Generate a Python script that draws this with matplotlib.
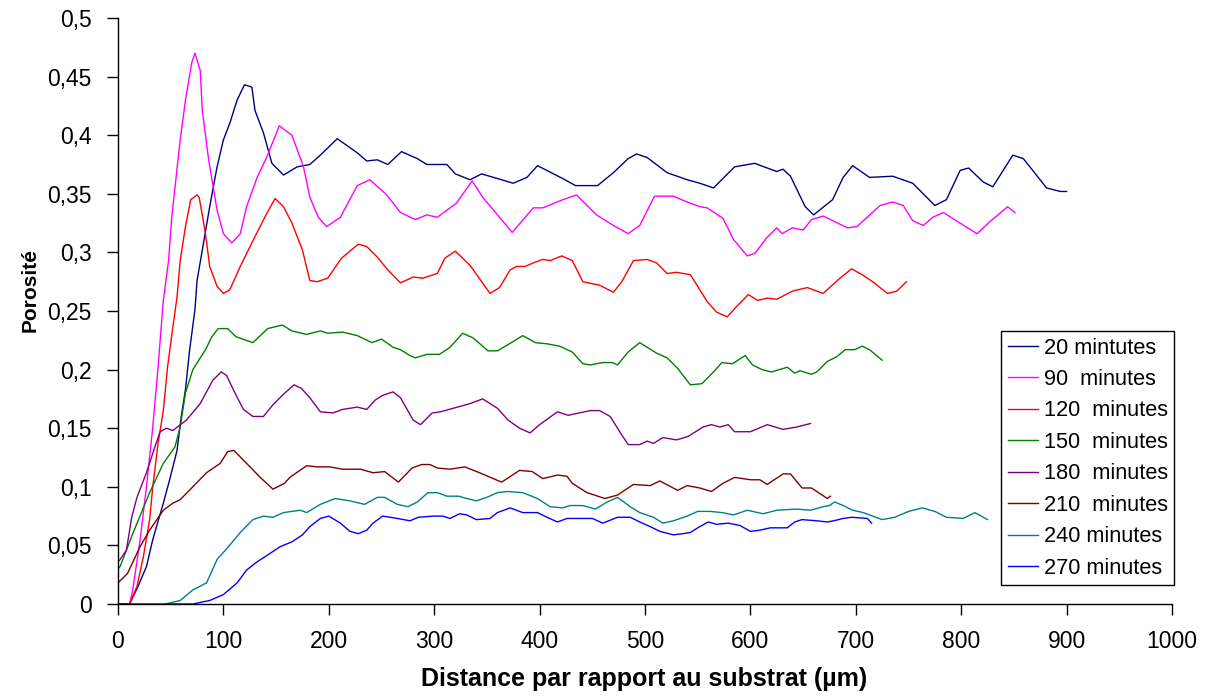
import matplotlib
matplotlib.use("Agg")
import matplotlib.pyplot as plt
from matplotlib.ticker import FixedLocator, FuncFormatter

plt.rcParams['font.family'] = ['Liberation Sans', 'DejaVu Sans']

labels = ["20 mintutes", "90  minutes", "120  minutes", "150  minutes",
          "180  minutes", "210  minutes", "240 minutes", "270 minutes"]
colors = ["#000080", "#FF00FF", "#FF0000", "#008000",
          "#800080", "#800000", "#008080", "#0000FF"]

s20 = [(0,0),(11,0),(19,0.015),(27,0.032),(33,0.055),(43,0.086),(49,0.106),(56,0.131),(60,0.160),
       (64,0.183),(68,0.217),(73,0.251),(75,0.276),(80,0.302),(87,0.339),(94,0.373),(100,0.396),
       (106,0.410),(113,0.430),(120,0.443),(127,0.441),(130,0.421),(138,0.402),(146,0.376),
       (157,0.366),(170,0.373),(182,0.375),(192,0.383),(208,0.397),(227,0.385),(236,0.378),
       (246,0.379),(256,0.375),(269,0.386),(284,0.380),(293,0.375),(312,0.375),(320,0.367),
       (334,0.362),(345,0.367),(360,0.363),(375,0.359),(388,0.364),(398,0.374),(422,0.363),
       (434,0.357),(455,0.357),(470,0.368),(484,0.380),(492,0.384),(502,0.381),(521,0.368),
       (540,0.362),(552,0.359),(565,0.355),(585,0.373),(604,0.376),(625,0.369),(631,0.371),
       (638,0.365),(652,0.339),(660,0.332),(678,0.345),(688,0.364),(697,0.374),(713,0.364),
       (735,0.365),(754,0.359),(775,0.340),(786,0.345),(799,0.370),(807,0.372),(821,0.360),
       (830,0.356),(849,0.383),(859,0.380),(881,0.355),(894,0.352),(900,0.352)]

s90 = [(0,0),(11,0),(14,0.012),(21,0.055),(27,0.100),(33,0.151),(38,0.202),(43,0.259),(48,0.293),
       (51,0.330),(59,0.396),(64,0.430),(70,0.462),(73,0.470),(78,0.455),(80,0.421),(86,0.379),
       (94,0.336),(100,0.316),(108,0.308),(116,0.316),(122,0.339),(132,0.364),(141,0.381),
       (153,0.408),(165,0.400),(176,0.373),(182,0.347),(190,0.330),(198,0.322),(211,0.330),
       (227,0.357),(239,0.362),(255,0.349),(268,0.334),(282,0.328),(293,0.332),(303,0.330),
       (321,0.342),(336,0.361),(346,0.347),(362,0.330),(374,0.317),(394,0.338),(403,0.338),
       (422,0.345),(435,0.349),(454,0.332),(470,0.323),(484,0.316),(495,0.323),(509,0.348),
       (527,0.348),(540,0.343),(552,0.339),(559,0.338),(574,0.329),(584,0.311),(597,0.297),
       (604,0.299),(616,0.313),(625,0.321),(630,0.316),(640,0.321),(650,0.319),(658,0.328),
       (669,0.331),(692,0.321),(701,0.322),(723,0.340),(735,0.343),(745,0.340),(754,0.327),
       (764,0.323),(773,0.330),(783,0.334),(792,0.329),(806,0.321),(815,0.316),(827,0.326),
       (844,0.339),(851,0.334)]

s120 = [(0,0),(11,0),(18,0.015),(24,0.040),(30,0.072),(33,0.100),(38,0.137),(43,0.165),(47,0.202),
        (52,0.236),(56,0.262),(59,0.293),(64,0.322),(69,0.345),(75,0.349),(77,0.347),(83,0.316),
        (87,0.288),(94,0.271),(100,0.265),(106,0.268),(116,0.288),(128,0.310),(141,0.333),
        (149,0.346),(157,0.339),(165,0.325),(175,0.302),(182,0.276),(189,0.275),(199,0.278),
        (212,0.295),(228,0.307),(236,0.305),(246,0.296),(256,0.285),(268,0.274),(280,0.279),
        (289,0.278),(303,0.282),(310,0.295),(320,0.301),(334,0.289),(345,0.275),(353,0.265),
        (362,0.270),(372,0.285),(378,0.288),(386,0.288),(394,0.291),(403,0.294),(410,0.293),
        (421,0.297),(431,0.293),(441,0.275),(457,0.272),(470,0.266),(478,0.275),(489,0.293),
        (502,0.294),(511,0.291),(521,0.282),(530,0.283),(543,0.281),(550,0.271),(559,0.258),
        (568,0.249),(578,0.245),(585,0.252),(598,0.264),(607,0.259),(616,0.261),(625,0.260),
        (640,0.267),(654,0.270),(669,0.265),(685,0.278),(696,0.286),(706,0.281),(716,0.275),
        (730,0.265),(739,0.267),(748,0.275)]

s150 = [(0,0.030),(2,0.032),(14,0.060),(30,0.095),(43,0.120),(54,0.134),(59,0.151),(64,0.180),
        (71,0.200),(83,0.217),(89,0.228),(95,0.235),(104,0.235),(112,0.228),(128,0.223),
        (142,0.235),(156,0.238),(165,0.233),(179,0.230),(192,0.233),(199,0.231),(213,0.232),
        (227,0.229),(241,0.223),(250,0.226),(261,0.219),(268,0.217),(277,0.212),(282,0.210),
        (293,0.213),(305,0.213),(315,0.219),(327,0.231),(337,0.227),(351,0.216),(360,0.216),
        (375,0.224),(384,0.229),(396,0.223),(407,0.222),(419,0.220),(431,0.215),(441,0.205),
        (448,0.204),(460,0.206),(469,0.206),(474,0.204),(484,0.215),(495,0.223),(511,0.214),
        (521,0.210),(531,0.201),(543,0.187),(554,0.188),(565,0.198),(573,0.206),(583,0.205),
        (595,0.212),(602,0.204),(611,0.200),(620,0.198),(635,0.202),(642,0.197),(647,0.199),
        (658,0.196),(663,0.198),(673,0.207),(682,0.211),(690,0.217),(699,0.217),(706,0.220),
        (713,0.217),(725,0.208)]

s180 = [(0,0.036),(2,0.038),(8,0.046),(13,0.074),(18,0.091),(27,0.112),(35,0.134),(40,0.147),
        (46,0.150),(52,0.148),(65,0.157),(78,0.171),(90,0.191),(98,0.198),(103,0.195),
        (111,0.180),(119,0.166),(128,0.160),(138,0.160),(147,0.170),(157,0.179),(167,0.187),
        (174,0.184),(182,0.176),(192,0.164),(204,0.163),(213,0.166),(227,0.168),(236,0.166),
        (244,0.174),(251,0.178),(261,0.181),(268,0.176),(280,0.157),(287,0.153),(298,0.163),
        (306,0.164),(322,0.168),(334,0.171),(346,0.175),(360,0.167),(370,0.157),(381,0.150),
        (391,0.146),(400,0.153),(417,0.164),(427,0.161),(448,0.165),(457,0.165),(467,0.160),
        (476,0.147),(484,0.136),(495,0.136),(502,0.139),(508,0.137),(517,0.142),(530,0.140),
        (541,0.143),(555,0.151),(563,0.153),(571,0.151),(579,0.153),(585,0.147),(600,0.147),
        (616,0.153),(631,0.149),(644,0.151),(657,0.154)]

s210 = [(0,0.018),(9,0.026),(21,0.049),(30,0.063),(43,0.080),(52,0.086),(59,0.089),(71,0.100),
        (84,0.112),(97,0.120),(104,0.130),(110,0.131),(122,0.120),(135,0.108),(147,0.098),
        (158,0.103),(163,0.108),(179,0.118),(189,0.117),(201,0.117),(213,0.115),(230,0.115),
        (242,0.112),(253,0.113),(266,0.104),(279,0.116),(288,0.119),(296,0.119),(303,0.116),
        (315,0.115),(329,0.117),(343,0.112),(356,0.107),(364,0.104),(381,0.114),(393,0.113),
        (403,0.107),(417,0.110),(426,0.109),(431,0.103),(445,0.095),(462,0.090),(474,0.093),
        (489,0.102),(505,0.101),(514,0.105),(531,0.097),(540,0.101),(552,0.099),(563,0.096),
        (574,0.103),(585,0.108),(600,0.106),(609,0.106),(616,0.102),(631,0.111),(638,0.111),
        (649,0.099),(658,0.099),(673,0.090),(676,0.092)]

s240 = [(45,0),(59,0.003),(71,0.012),(84,0.018),(94,0.038),(104,0.048),(116,0.061),(128,0.072),
        (138,0.075),(147,0.074),(157,0.078),(173,0.080),(179,0.078),(192,0.085),(206,0.090),
        (220,0.088),(234,0.085),(246,0.091),(253,0.091),(265,0.085),(275,0.083),(284,0.087),
        (294,0.095),(303,0.095),(312,0.092),(323,0.092),(331,0.090),(340,0.088),(350,0.091),
        (360,0.095),(369,0.096),(384,0.095),(398,0.090),(410,0.083),(422,0.082),(429,0.084),
        (441,0.084),(453,0.081),(464,0.087),(474,0.091),(486,0.083),(495,0.078),(508,0.074),
        (517,0.069),(527,0.071),(540,0.075),(550,0.079),(562,0.079),(573,0.078),(584,0.076),
        (597,0.080),(612,0.077),(625,0.080),(644,0.081),(657,0.080),(669,0.083),(675,0.084),
        (680,0.087),(688,0.084),(697,0.080),(707,0.078),(725,0.072),(737,0.074),(750,0.079),
        (763,0.082),(775,0.079),(786,0.074),(802,0.073),(813,0.078),(825,0.072)]

s270 = [(0,0),(71,0),(87,0.003),(100,0.008),(113,0.018),(122,0.029),(132,0.036),(144,0.043),
        (154,0.049),(165,0.053),(175,0.059),(182,0.066),(192,0.073),(200,0.075),(211,0.069),
        (220,0.062),(228,0.060),(236,0.063),(242,0.069),(251,0.075),(265,0.073),(277,0.071),
        (285,0.074),(299,0.075),(308,0.075),(315,0.073),(324,0.077),(331,0.076),(340,0.072),
        (353,0.073),(360,0.078),(372,0.082),(384,0.078),(398,0.078),(407,0.074),(417,0.070),
        (426,0.073),(438,0.073),(450,0.073),(460,0.069),(474,0.074),(486,0.074),(495,0.070),
        (505,0.066),(514,0.062),(527,0.059),(536,0.060),(543,0.061),(550,0.065),(560,0.070),
        (568,0.068),(579,0.069),(590,0.067),(600,0.062),(609,0.063),(619,0.065),(635,0.065),
        (642,0.070),(649,0.072),(663,0.071),(673,0.070),(679,0.071),(688,0.073),(696,0.074),
        (711,0.073),(715,0.069)]

series = [s20, s90, s120, s150, s180, s210, s240, s270]

x_ticks = [0, 100, 200, 300, 400, 500, 600, 700, 800, 900, 1000]
y_ticks = [0, 0.05, 0.1, 0.15, 0.2, 0.25, 0.3, 0.35, 0.4, 0.45, 0.5]

fig = plt.figure(figsize=(12.06, 7.0), dpi=100)
ax = fig.add_axes([118/1206, 1 - 604/700, (1172-118)/1206, (604-18)/700])

for data, lab, col in zip(series, labels, colors):
    xs = [p[0] for p in data]
    ys = [p[1] for p in data]
    ax.plot(xs, ys, color=col, lw=1.0, label=lab)

ax.set_xlim(0, 1000)
ax.set_ylim(0, 0.5)
ax.xaxis.set_major_locator(FixedLocator(x_ticks))
ax.yaxis.set_major_locator(FixedLocator(y_ticks))
ax.yaxis.set_major_formatter(FuncFormatter(lambda v, p: ("%g" % v).replace(".", ",")))
for s in ["top", "right"]:
    ax.spines[s].set_visible(False)
for s in ["left", "bottom"]:
    ax.spines[s].set_linewidth(1.0)
    ax.spines[s].set_color("black")
ax.tick_params(axis="both", direction="out", length=8, width=1.0, labelsize=16.5, colors="black")
ax.tick_params(axis="y", pad=11)
ax.tick_params(axis="x", pad=11)

ax.set_xlabel("Distance par rapport au substrat (µm)", fontsize=18, fontweight="bold")
ax.set_ylabel("Porosité", fontsize=15, fontweight="bold")
ax.xaxis.set_label_coords(0.499, -0.108)
ax.yaxis.set_label_coords(-0.074, 0.535)

leg = ax.legend(loc="upper left", bbox_to_anchor=(1001/1206, 1 - 331/700),
                bbox_transform=fig.transFigure, borderaxespad=0, fontsize=15.7,
                frameon=True, fancybox=False, framealpha=1, edgecolor="black",
                handlelength=1.4, handletextpad=0.25, labelspacing=0.48, borderpad=0.3)
leg.get_frame().set_linewidth(1.0)

fig.savefig("out.png", dpi=100)
